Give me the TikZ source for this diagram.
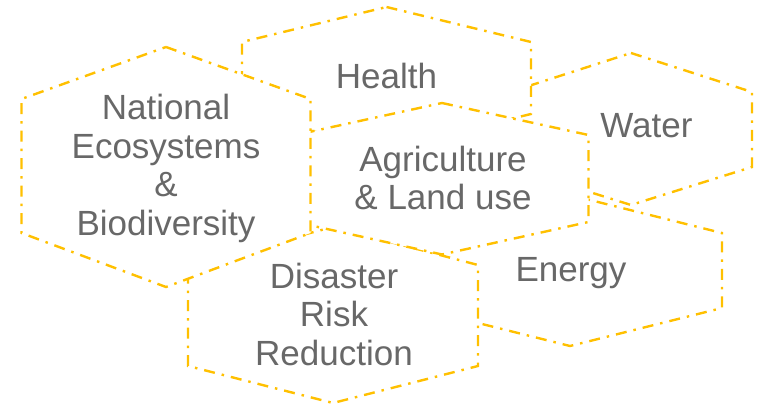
\documentclass[tikz,border=0pt]{standalone}
\usepackage{fontspec}
\setmainfont{Liberation Sans}
\definecolor{hexgold}{RGB}{255,192,0}
\definecolor{labelgray}{RGB}{104,104,104}
\tikzset{
  hexline/.style={draw=hexgold, fill=white, line width=2.4pt,
    dash pattern=on 11pt off 7pt on 2.5pt off 7pt},
  hexlabel/.style={text=labelgray, inner sep=0pt, align=center,
    font=\fontsize{35}{38.5}\selectfont}
}
% #1 centre x, #2 half width, #3 top, #4 upper side, #5 lower side, #6 bottom
\newcommand\myhex[6]{%
  \path[hexline] (#1,#3) -- ({#1+#2},#4) -- ({#1+#2},#5) -- (#1,#6)
    -- ({#1-#2},#5) -- ({#1-#2},#4) -- cycle;}
\begin{document}
\begin{tikzpicture}[x=1pt,y=-1pt]
\useasboundingbox (0,0) rectangle (769,411);
% hexagons, back to front
\myhex{631}{121}{53}{92}{167}{205}      % Water
\myhex{386.5}{144.5}{7}{42}{114}{149}   % Health
\myhex{570}{152}{195}{233}{308}{346}    % Energy
\myhex{333}{145}{227}{265}{366}{403}    % Disaster
\myhex{442}{146.5}{103}{135}{222}{254.5}% Agriculture
\myhex{166}{144.5}{47}{99}{233}{287}    % National
% labels
\node[hexlabel, anchor=base] (health) at (386.5,89) {Health};
\node[hexlabel, anchor=base] (water) at (646.5,138) {Water};
\node[hexlabel, anchor=base] (energy) at (571,282) {Energy};
\node[hexlabel] (national) at (166,168.5) {National\\Ecosystems\\\&\\Biodiversity};
\node[hexlabel] (agri) at (443,178) {Agriculture\\\& Land use};
\node[hexlabel] (disaster) at (334,314) {Disaster\\Risk\\Reduction};
\end{tikzpicture}
\end{document}
